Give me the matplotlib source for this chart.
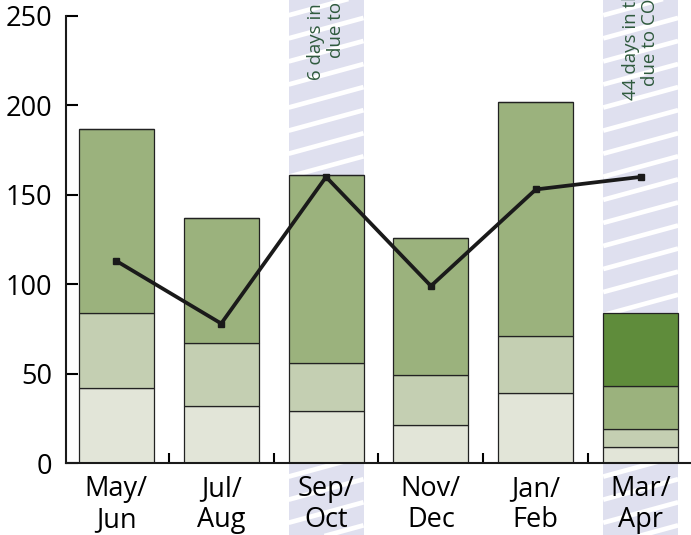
import numpy as np
import matplotlib
matplotlib.use('Agg')
import matplotlib.pyplot as plt
from matplotlib.patches import Rectangle

plt.rcParams['font.family'] = ['Open Sans', 'DejaVu Sans']

periods = ['May/\nJun', 'Jul/\nAug', 'Sep/\nOct', 'Nov/\nDec', 'Jan/\nFeb', 'Mar/\nApr']
seg_light = [42, 32, 29, 21, 39, 9]
seg_midlight = [42, 35, 27, 28, 32, 10]
seg_mid = [103, 70, 105, 77, 131, 24]
seg_dark = [0, 0, 0, 0, 0, 41]
line_vals = [113, 78, 160, 99, 153, 160]

highlight = [2, 5]
notes = ['6 days in the school year lost\ndue to transport strikes',
         '44 days in the school year lost\ndue to COVID-19 lockdown']
note_y = [214, 203]

c_light = '#e2e5d8'
c_midlight = '#c4cfb2'
c_mid = '#9bb27d'
c_dark = '#5f8c3b'
c_band = '#dfe0ef'

fig = plt.figure(figsize=(6.91, 5.35), dpi=100)
ax = fig.add_axes([66 / 691, 72 / 535, 625 / 691, 447 / 535])

x = np.arange(len(periods))
width = 0.714

# hatched bands behind the highlighted periods
y_lo, y_hi = -45, 262
for i, xi in enumerate(highlight):
    xl, xr = xi - width / 2, xi + width / 2
    ax.add_patch(Rectangle((xl, y_lo), width, y_hi - y_lo, facecolor=c_band,
                           edgecolor='none', zorder=0, clip_on=False))
    slope = 16.0
    for y0 in np.arange(y_lo - 40, y_hi + 20, 12.9):
        ax.plot([xl, xr], [y0, y0 + slope * width], color='white', lw=3.4,
                solid_capstyle='butt', zorder=0.5, clip_on=False)
    ax.text(xi, note_y[i], notes[i], rotation=90, ha='center', va='bottom',
            fontsize=13.5, color='#2f5a3e', linespacing=1.1, zorder=1,
            clip_on=False)

bottom = np.zeros(len(periods))
for vals, col in [(seg_light, c_light), (seg_midlight, c_midlight),
                  (seg_mid, c_mid), (seg_dark, c_dark)]:
    vals = np.array(vals, dtype=float)
    ax.bar(x, vals, width, bottom=bottom, color=col, edgecolor='#222222',
           linewidth=0.9, zorder=2)
    bottom += vals

ax.plot(x, line_vals, color='#1a1a1a', lw=2.7, marker='s', markersize=4,
        zorder=3)

ax.set_xlim(-0.48, 5.48)
ax.set_ylim(0, 250)
ax.set_yticks([0, 50, 100, 150, 200, 250])
ax.set_xticks(x)
ax.set_xticklabels(periods, linespacing=1.15)
ax.set_xticks(x[:-1] + 0.5, minor=True)
ax.tick_params(axis='x', which='major', length=0, pad=8.5, labelsize=19.5)
ax.tick_params(axis='x', which='minor', direction='in', length=7.5, width=1.5)
ax.tick_params(axis='y', direction='in', length=8.5, width=1.5, pad=10,
               labelsize=19.5)

for s in ['top', 'right']:
    ax.spines[s].set_visible(False)
for s in ['left', 'bottom']:
    ax.spines[s].set_linewidth(1.5)
    ax.spines[s].set_color('#1a1a1a')
    ax.spines[s].set_zorder(2.5)

fig.savefig('out.png', dpi=100)
